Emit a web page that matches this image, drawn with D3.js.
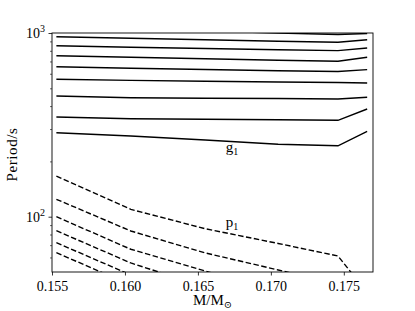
<!DOCTYPE html>
<html>
<head>
<meta charset="utf-8">
<style>
  body { margin: 0; background: #fff; }
  text { font-family: "Liberation Serif", "DejaVu Serif", serif; fill: #000; }
  .tick text { font-size: 14px; }
  .mode { fill: none; stroke: #000; stroke-width: 1.4px; }
  .mode.p { stroke-dasharray: 5.5, 2.5; }
</style>
<script src="https://cdn.jsdelivr.net/npm/d3@7"></script>
</head>
<body>
<div id="chart"></div>
<script>
// stellar masses of the models (Msun)
var masses = [0.1553, 0.1604, 0.1655, 0.1705, 0.1746, 0.1766];

// g-mode periods (s), g1 first
var gPeriods = [
  [286.6, 275.0, 261.5, 247.8, 243.2, 291.7],
  [349.0, 341.6, 339.5, 337.4, 334.8, 385.8],
  [454.0, 443.9, 441.1, 440.0, 437.3, 446.7],
  [559.8, 552.1, 545.9, 541.2, 537.8, 534.4],
  [655.6, 643.4, 633.0, 623.6, 617.3, 631.5],
  [752.2, 738.2, 723.6, 710.1, 701.3, 737.3],
  [852.9, 837.0, 823.5, 811.2, 802.1, 828.7],
  [954.7, 935.7, 918.3, 901.2, 890.0, 919.4],
  [1078, 1051, 1025, 1000, 981.4, 993.8]
];

// p-mode periods (s), p1 first
var pPeriods = [
  [166.5, 109.7, 86.0, 71.5, 61.1, 38.7],
  [124.4, 83.6, 63.5, 51.3, 43.0, 27.4],
  [100.0, 66.5, 50.6, 39.0, 32.0, 27.0],
  [83.9, 56.0, 41.4, 36.0, 31.0, 26.0],
  [72.2, 48.2, 42.0, 36.0, 32.0, 28.0],
  [63.7, 42.5, 37.0, 32.0, 28.0, 25.0]
];

var xTicks = [0.155, 0.160, 0.165, 0.170, 0.175];
var xTickLabels = ["0.155", "0.160", "0.165", "0.170", "0.175"];
var yMajor = [100, 1000];
var yMajorExp = ["2", "3"];
var yMinor = [60, 70, 80, 90, 200, 300, 400, 500, 600, 700, 800, 900];

var W = 415, H = 311,
    pLeft = 52, pRight = 373, pTop = 33, pBottom = 272;

var x = d3.scaleLinear().domain([0.155, 0.177]).range([pLeft, pRight]);
var y = d3.scaleLog().domain([50, 1000]).range([pBottom, pTop]);

var svg = d3.select("#chart").append("svg")
    .attr("width", W)
    .attr("height", H);

svg.append("clipPath").attr("id", "plot")
  .append("rect")
    .attr("x", pLeft).attr("y", pTop)
    .attr("width", pRight - pLeft).attr("height", pBottom - pTop);

var line = d3.line()
    .x(function(d, i) { return x(masses[i]); })
    .y(function(d) { return y(d); });

var g = svg.append("g").attr("clip-path", "url(#plot)");

g.selectAll(".g")
    .data(gPeriods)
  .enter().append("path")
    .attr("class", "mode g")
    .attr("d", line);

g.selectAll(".p")
    .data(pPeriods)
  .enter().append("path")
    .attr("class", "mode p")
    .attr("d", line);

// axes
var xAxis = svg.append("g")
    .attr("transform", "translate(0," + pBottom + ")")
    .call(d3.axisBottom(x).tickValues(xTicks)
      .tickFormat(function(d, i) { return xTickLabels[i]; })
      .tickSize(3.5).tickPadding(3));
xAxis.select(".domain").remove();
xAxis.selectAll("line").attr("stroke-width", 0.8);
xAxis.selectAll("text").attr("dy", "0.9em");

var yAxis = svg.append("g")
    .attr("transform", "translate(" + pLeft + ",0)")
    .call(d3.axisLeft(y).tickValues(yMajor).tickFormat("").tickSize(3.5));
yAxis.select(".domain").remove();
yAxis.selectAll("line").attr("stroke-width", 0.8);

var yMinorAxis = svg.append("g")
    .attr("transform", "translate(" + pLeft + ",0)")
    .call(d3.axisLeft(y).tickValues(yMinor).tickFormat("").tickSize(2));
yMinorAxis.select(".domain").remove();
yMinorAxis.selectAll("line").attr("stroke-width", 0.6);

var yLab = svg.selectAll(".ylab")
    .data(yMajor)
  .enter().append("text")
    .attr("class", "ylab")
    .attr("x", 45)
    .attr("y", function(d) { return y(d) + 5; })
    .attr("text-anchor", "end")
    .style("font-size", "14px");
yLab.append("tspan").text("10");
yLab.append("tspan")
    .attr("dy", -6)
    .style("font-size", "10px")
    .text(function(d, i) { return yMajorExp[i]; });

svg.append("rect")
    .attr("x", pLeft).attr("y", pTop)
    .attr("width", pRight - pLeft).attr("height", pBottom - pTop)
    .attr("fill", "none")
    .attr("stroke", "#000")
    .attr("stroke-width", 0.9);

// axis titles
var xt = svg.append("text")
    .attr("x", (pLeft + pRight) / 2)
    .attr("y", 305)
    .attr("text-anchor", "middle")
    .style("font-size", "15px");
xt.append("tspan").text("M/M");
xt.append("tspan").attr("dy", 3).style("font-size", "10px").text("\u2299");

svg.append("text")
    .attr("transform", "translate(17," + ((pTop + pBottom) / 2 + 2) + ") rotate(-90)")
    .attr("text-anchor", "middle")
    .style("font-size", "15px")
    .style("letter-spacing", "0.6px")
    .text("Period/s");

// mode labels
var modeLabels = [
  { name: "g", sub: "1", m: 0.1669, p: 226 },
  { name: "p", sub: "1", m: 0.1669, p: 88 }
];
var ml = svg.selectAll(".ml")
    .data(modeLabels)
  .enter().append("text")
    .attr("class", "ml")
    .attr("x", function(d) { return x(d.m); })
    .attr("y", function(d) { return y(d.p); })
    .style("font-size", "15px");
ml.append("tspan").text(function(d) { return d.name; });
ml.append("tspan").attr("dy", 3).style("font-size", "10px").text(function(d) { return d.sub; });
</script>
</body>
</html>
